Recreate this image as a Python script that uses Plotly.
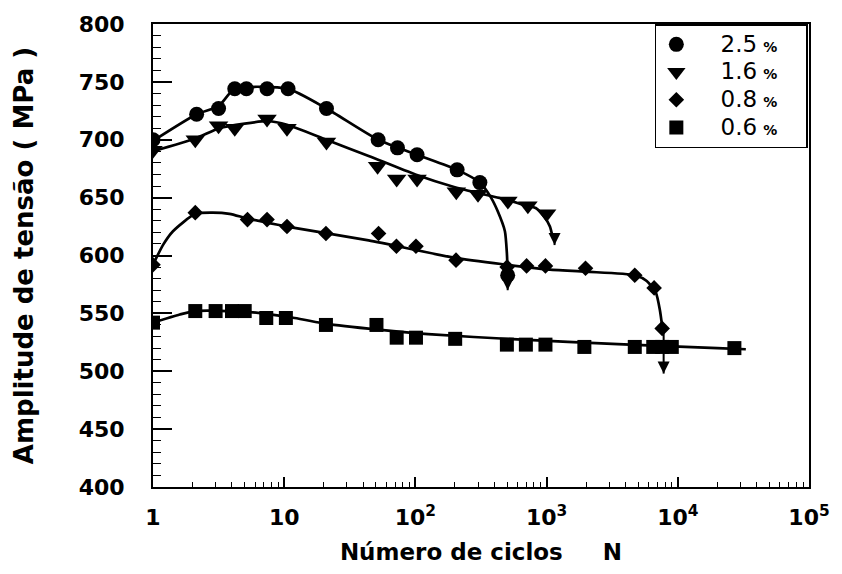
import numpy as np
import plotly.graph_objects as go

# ---------------- data ----------------
# 2.5 % strain amplitude (circles)
n25 = [1, 2.15, 3.16, 4.2, 5.15, 7.4, 10.7, 21, 52, 73, 103, 208, 310, 505]
s25 = [700, 722, 727, 744, 744, 744, 744, 727, 700, 693, 687, 674, 663, 583]
fit25_n = [1, 2.15, 3.16, 4.2, 10.7, 21, 52, 103, 208, 310, 377, 425, 481, 498, 505]
fit25_s = [699, 722, 729, 744, 744, 727, 700, 687, 674, 663, 650, 638, 621, 602, 585]

# 1.6 % (triangles)
n16 = [1, 2.1, 3.16, 4.2, 7.4, 10.5, 21, 51.5, 72, 103, 205, 300, 507, 720, 1000]
s16 = [691, 700, 712, 710, 718, 710, 698, 677, 666, 666, 655, 653, 647, 643, 636]
fit16_n = [1, 2.1, 3.2, 5, 7.5, 10.5, 21, 44, 100, 200, 300, 500, 700, 826, 966, 1060, 1110]
fit16_s = [690, 701, 710, 714, 716, 713, 700, 686, 670, 659, 654, 648, 643, 641, 633, 625, 616]

# 0.8 % (diamonds)
n08 = [1, 2.1, 5.25, 7.4, 10.5, 20.8, 52.4, 71.7, 101, 204, 500, 704, 980, 1980, 4700, 6600, 7600]
s08 = [592, 637, 631, 631, 625, 619, 619, 608, 608, 596, 590, 591, 591, 589, 583, 572, 537]
fit08_n = [1, 1.19, 1.42, 2.1, 2.85, 3.83, 5.25, 10.5, 44, 200, 500, 1000, 2000, 4700, 5800, 6800, 7300, 7600]
fit08_s = [592, 609, 621, 636, 637, 636, 632, 625, 613, 598, 592, 588, 586, 583, 578, 568, 553, 539]

# 0.6 % (squares)
n06 = [1, 2.1, 3, 4, 5, 7.3, 10.3, 20.8, 50.5, 72, 101, 201, 498, 695, 980, 1940, 4700, 6500, 7600, 9000, 27000]
s06 = [542, 552, 552, 552, 552, 546, 546, 540, 540, 529, 529, 528, 523, 523, 523, 521, 521, 521, 521, 521, 520]
fit06_n = [1, 1.6, 2.1, 5, 12, 21, 52, 125, 600, 3500, 20000, 33000]
fit06_s = [542, 549, 552, 551.5, 546, 541, 536, 532, 527.5, 523.5, 520, 519]

# failure arrows: cycles, stem start, arrow-head centre
arrow_n = [505, 1150, 7800]
arrow_from = [583, 617, 537]
arrow_head = [570, 609, 498]

labels = ["2.5", "1.6", "0.8", "0.6"]
symbols = ["circle", "triangle-down", "diamond", "square"]
sizes = [15, 17, 12, 14]

x_tickvals = [1, 10, 100, 1000, 10000, 100000]
x_ticktext = ["1", "10", "10<sup>2</sup>", "10<sup>3</sup>", "10<sup>4</sup>", "10<sup>5</sup>"]

# ---------------- figure ----------------
fig = go.Figure()
fits = [(fit25_n, fit25_s), (fit16_n, fit16_s), (fit08_n, fit08_s), (fit06_n, fit06_s)]
for fn, fs in fits:
    fig.add_trace(go.Scatter(x=fn, y=fs, mode="lines",
                             line=dict(color="black", width=2.7, shape="spline", smoothing=0.6),
                             showlegend=False, hoverinfo="skip"))

# arrow stems
for an, af, ah in zip(arrow_n, arrow_from, arrow_head):
    fig.add_trace(go.Scatter(x=[an, an], y=[af, ah], mode="lines",
                             line=dict(color="black", width=2), showlegend=False, hoverinfo="skip"))
fig.add_trace(go.Scatter(x=arrow_n, y=arrow_head, mode="markers",
                         marker=dict(symbol="arrow-down", size=12, color="black"),
                         showlegend=False, hoverinfo="skip"))

NB = "\u00a0"
series = [(n25, s25), (n16, s16), (n08, s08), (n06, s06)]
for (xn, ys), lab, sym, sz in zip(series, labels, symbols, sizes):
    fig.add_trace(go.Scatter(
        x=xn, y=ys, mode="markers",
        name=NB * 4 + "<span style='font-size:23px'>" + lab + "</span>"
             + NB + "<span style='font-size:14px'><b>%</b></span>" + NB * 4,
        marker=dict(symbol=sym, size=sz, color="black")))

fig.update_layout(
    width=842, height=574,
    margin=dict(l=153, r=29, t=17, b=87),
    paper_bgcolor="white", plot_bgcolor="white",
    font=dict(family="DejaVu Sans", color="black"),
    showlegend=True,
    legend=dict(x=0.765, y=1.0, xanchor="left", yanchor="top",
                bgcolor="white", bordercolor="black", borderwidth=1.5,
                font=dict(family="DejaVu Sans", size=19, color="black"),
                itemsizing="trace", tracegroupgap=0),
)
fig.update_xaxes(
    type="log", range=[0, 5],
    tickvals=x_tickvals, ticktext=x_ticktext,
    ticks="inside", ticklen=10, tickwidth=1.5, tickcolor="black",
    minor=dict(ticks="inside", ticklen=5, tickwidth=1.2, tickcolor="black",
               tickvals=[m * 10 ** k for k in range(5) for m in range(2, 10)]),
    showline=True, linewidth=2, linecolor="black", mirror=True,
    showgrid=False, zeroline=False,
    tickfont=dict(family="DejaVu Sans", size=22, weight="bold"),
    ticklabelstandoff=10,
    title=dict(text="Número de ciclos" + NB * 5 + "N",
               font=dict(family="DejaVu Sans", size=23, weight="bold"), standoff=14),
)
fig.update_yaxes(
    range=[400, 800], dtick=50,
    ticks="inside", ticklen=19, tickwidth=1.5, tickcolor="black",
    minor=dict(ticks="inside", ticklen=8, tickwidth=1.2, tickcolor="black", dtick=10),
    showline=True, linewidth=2, linecolor="black", mirror=True,
    showgrid=False, zeroline=False,
    tickfont=dict(family="DejaVu Sans", size=22, weight="bold"),
    ticklabelstandoff=22,
    title=dict(text="Amplitude de tensão ( MPa )",
               font=dict(family="DejaVu Sans", size=26, weight="bold"), standoff=38),
)

fig.write_html("out.html")
